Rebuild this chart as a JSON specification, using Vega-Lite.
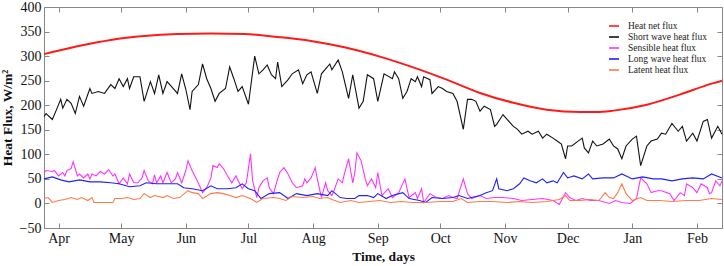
{
  "$schema": "https://vega.github.io/schema/vega-lite/v6.json",
  "width": 678,
  "height": 221,
  "autosize": {"type": "none"},
  "padding": {"left": 44, "top": 7, "right": 2, "bottom": 38},
  "background": "white",
  "config": {
    "view": {"stroke": "#888888", "strokeWidth": 1},
    "font": "Liberation Serif"
  },
  "datasets": {
    "net": [
      {"t": "2014-03-25", "v": 304}, {"t": "2014-04-10", "v": 320}, {"t": "2014-04-26", "v": 333}, {"t": "2014-05-12", "v": 341}, {"t": "2014-05-28", "v": 345}, {"t": "2014-06-13", "v": 346}, {"t": "2014-06-29", "v": 345}, {"t": "2014-07-15", "v": 339}, {"t": "2014-07-31", "v": 331}, {"t": "2014-08-16", "v": 318}, {"t": "2014-09-02", "v": 299}, {"t": "2014-09-18", "v": 277}, {"t": "2014-10-04", "v": 252}, {"t": "2014-10-20", "v": 225}, {"t": "2014-11-05", "v": 205}, {"t": "2014-11-21", "v": 191}, {"t": "2014-12-07", "v": 186}, {"t": "2014-12-15", "v": 186}, {"t": "2014-12-23", "v": 189}, {"t": "2015-01-08", "v": 201}, {"t": "2015-01-24", "v": 222}, {"t": "2015-02-08", "v": 244}, {"t": "2015-02-13", "v": 250}
    ],
    "short": [
      {"t": "2014-03-25", "v": 177}, {"t": "2014-03-26", "v": 183}, {"t": "2014-03-29", "v": 171}, {"t": "2014-03-31", "v": 191}, {"t": "2014-04-02", "v": 212}, {"t": "2014-04-03", "v": 194}, {"t": "2014-04-05", "v": 212}, {"t": "2014-04-07", "v": 204}, {"t": "2014-04-09", "v": 183}, {"t": "2014-04-11", "v": 218}, {"t": "2014-04-13", "v": 198}, {"t": "2014-04-16", "v": 234}, {"t": "2014-04-17", "v": 224}, {"t": "2014-04-20", "v": 228}, {"t": "2014-04-23", "v": 224}, {"t": "2014-04-26", "v": 242}, {"t": "2014-04-28", "v": 234}, {"t": "2014-04-30", "v": 254}, {"t": "2014-05-02", "v": 238}, {"t": "2014-05-04", "v": 254}, {"t": "2014-05-05", "v": 234}, {"t": "2014-05-07", "v": 258}, {"t": "2014-05-10", "v": 258}, {"t": "2014-05-12", "v": 208}, {"t": "2014-05-15", "v": 248}, {"t": "2014-05-17", "v": 224}, {"t": "2014-05-19", "v": 262}, {"t": "2014-05-21", "v": 224}, {"t": "2014-05-23", "v": 248}, {"t": "2014-05-26", "v": 234}, {"t": "2014-05-28", "v": 224}, {"t": "2014-05-30", "v": 264}, {"t": "2014-06-01", "v": 232}, {"t": "2014-06-03", "v": 191}, {"t": "2014-06-04", "v": 228}, {"t": "2014-06-07", "v": 242}, {"t": "2014-06-09", "v": 284}, {"t": "2014-06-11", "v": 254}, {"t": "2014-06-13", "v": 234}, {"t": "2014-06-15", "v": 208}, {"t": "2014-06-17", "v": 224}, {"t": "2014-06-20", "v": 234}, {"t": "2014-06-22", "v": 278}, {"t": "2014-06-24", "v": 254}, {"t": "2014-06-26", "v": 228}, {"t": "2014-06-28", "v": 238}, {"t": "2014-07-01", "v": 202}, {"t": "2014-07-04", "v": 300}, {"t": "2014-07-06", "v": 264}, {"t": "2014-07-08", "v": 272}, {"t": "2014-07-10", "v": 282}, {"t": "2014-07-12", "v": 262}, {"t": "2014-07-14", "v": 254}, {"t": "2014-07-15", "v": 288}, {"t": "2014-07-17", "v": 238}, {"t": "2014-07-20", "v": 252}, {"t": "2014-07-22", "v": 264}, {"t": "2014-07-25", "v": 272}, {"t": "2014-07-27", "v": 244}, {"t": "2014-07-29", "v": 262}, {"t": "2014-07-31", "v": 268}, {"t": "2014-08-03", "v": 224}, {"t": "2014-08-05", "v": 264}, {"t": "2014-08-07", "v": 274}, {"t": "2014-08-09", "v": 284}, {"t": "2014-08-10", "v": 272}, {"t": "2014-08-13", "v": 292}, {"t": "2014-08-15", "v": 268}, {"t": "2014-08-18", "v": 214}, {"t": "2014-08-20", "v": 262}, {"t": "2014-08-23", "v": 194}, {"t": "2014-08-25", "v": 208}, {"t": "2014-08-27", "v": 262}, {"t": "2014-08-30", "v": 254}, {"t": "2014-09-01", "v": 208}, {"t": "2014-09-04", "v": 264}, {"t": "2014-09-08", "v": 254}, {"t": "2014-09-09", "v": 268}, {"t": "2014-09-11", "v": 254}, {"t": "2014-09-13", "v": 214}, {"t": "2014-09-15", "v": 228}, {"t": "2014-09-17", "v": 254}, {"t": "2014-09-19", "v": 248}, {"t": "2014-09-20", "v": 258}, {"t": "2014-09-22", "v": 238}, {"t": "2014-09-23", "v": 258}, {"t": "2014-09-26", "v": 252}, {"t": "2014-09-27", "v": 224}, {"t": "2014-09-30", "v": 238}, {"t": "2014-10-02", "v": 234}, {"t": "2014-10-04", "v": 228}, {"t": "2014-10-07", "v": 224}, {"t": "2014-10-09", "v": 208}, {"t": "2014-10-12", "v": 151}, {"t": "2014-10-14", "v": 212}, {"t": "2014-10-16", "v": 212}, {"t": "2014-10-18", "v": 208}, {"t": "2014-10-20", "v": 188}, {"t": "2014-10-22", "v": 198}, {"t": "2014-10-25", "v": 191}, {"t": "2014-10-27", "v": 157}, {"t": "2014-10-28", "v": 161}, {"t": "2014-10-31", "v": 181}, {"t": "2014-11-02", "v": 171}, {"t": "2014-11-05", "v": 157}, {"t": "2014-11-07", "v": 151}, {"t": "2014-11-09", "v": 141}, {"t": "2014-11-12", "v": 147}, {"t": "2014-11-14", "v": 141}, {"t": "2014-11-17", "v": 147}, {"t": "2014-11-19", "v": 133}, {"t": "2014-11-21", "v": 141}, {"t": "2014-11-24", "v": 133}, {"t": "2014-11-26", "v": 127}, {"t": "2014-11-28", "v": 121}, {"t": "2014-11-30", "v": 91}, {"t": "2014-12-01", "v": 117}, {"t": "2014-12-03", "v": 117}, {"t": "2014-12-06", "v": 127}, {"t": "2014-12-08", "v": 133}, {"t": "2014-12-09", "v": 113}, {"t": "2014-12-11", "v": 103}, {"t": "2014-12-13", "v": 127}, {"t": "2014-12-15", "v": 117}, {"t": "2014-12-18", "v": 121}, {"t": "2014-12-21", "v": 131}, {"t": "2014-12-23", "v": 117}, {"t": "2014-12-25", "v": 111}, {"t": "2014-12-27", "v": 91}, {"t": "2014-12-29", "v": 117}, {"t": "2015-01-01", "v": 131}, {"t": "2015-01-03", "v": 137}, {"t": "2015-01-05", "v": 77}, {"t": "2015-01-08", "v": 117}, {"t": "2015-01-10", "v": 127}, {"t": "2015-01-13", "v": 131}, {"t": "2015-01-15", "v": 143}, {"t": "2015-01-17", "v": 141}, {"t": "2015-01-20", "v": 163}, {"t": "2015-01-23", "v": 147}, {"t": "2015-01-25", "v": 157}, {"t": "2015-01-27", "v": 127}, {"t": "2015-01-30", "v": 143}, {"t": "2015-02-01", "v": 127}, {"t": "2015-02-04", "v": 167}, {"t": "2015-02-06", "v": 171}, {"t": "2015-02-08", "v": 133}, {"t": "2015-02-11", "v": 157}, {"t": "2015-02-13", "v": 141}
    ],
    "sensible": [
      {"t": "2014-03-25", "v": 63}, {"t": "2014-03-26", "v": 67}, {"t": "2014-03-29", "v": 65}, {"t": "2014-03-30", "v": 67}, {"t": "2014-04-01", "v": 56}, {"t": "2014-04-03", "v": 63}, {"t": "2014-04-04", "v": 56}, {"t": "2014-04-05", "v": 67}, {"t": "2014-04-07", "v": 71}, {"t": "2014-04-08", "v": 85}, {"t": "2014-04-10", "v": 56}, {"t": "2014-04-11", "v": 60}, {"t": "2014-04-13", "v": 52}, {"t": "2014-04-15", "v": 60}, {"t": "2014-04-16", "v": 50}, {"t": "2014-04-17", "v": 60}, {"t": "2014-04-19", "v": 56}, {"t": "2014-04-21", "v": 65}, {"t": "2014-04-23", "v": 60}, {"t": "2014-04-25", "v": 69}, {"t": "2014-04-27", "v": 56}, {"t": "2014-04-28", "v": 60}, {"t": "2014-04-30", "v": 40}, {"t": "2014-05-02", "v": 52}, {"t": "2014-05-04", "v": 40}, {"t": "2014-05-05", "v": 60}, {"t": "2014-05-07", "v": 42}, {"t": "2014-05-09", "v": 42}, {"t": "2014-05-11", "v": 52}, {"t": "2014-05-12", "v": 67}, {"t": "2014-05-14", "v": 46}, {"t": "2014-05-16", "v": 40}, {"t": "2014-05-17", "v": 58}, {"t": "2014-05-18", "v": 42}, {"t": "2014-05-20", "v": 56}, {"t": "2014-05-21", "v": 42}, {"t": "2014-05-23", "v": 63}, {"t": "2014-05-25", "v": 42}, {"t": "2014-05-27", "v": 50}, {"t": "2014-05-28", "v": 63}, {"t": "2014-05-30", "v": 42}, {"t": "2014-06-01", "v": 67}, {"t": "2014-06-02", "v": 87}, {"t": "2014-06-04", "v": 67}, {"t": "2014-06-06", "v": 50}, {"t": "2014-06-08", "v": 32}, {"t": "2014-06-09", "v": 22}, {"t": "2014-06-11", "v": 32}, {"t": "2014-06-13", "v": 52}, {"t": "2014-06-14", "v": 77}, {"t": "2014-06-16", "v": 73}, {"t": "2014-06-17", "v": 81}, {"t": "2014-06-19", "v": 71}, {"t": "2014-06-21", "v": 56}, {"t": "2014-06-23", "v": 42}, {"t": "2014-06-25", "v": 56}, {"t": "2014-06-28", "v": 30}, {"t": "2014-06-30", "v": 42}, {"t": "2014-07-02", "v": 101}, {"t": "2014-07-03", "v": 46}, {"t": "2014-07-05", "v": 12}, {"t": "2014-07-06", "v": 32}, {"t": "2014-07-08", "v": 46}, {"t": "2014-07-10", "v": 52}, {"t": "2014-07-11", "v": 32}, {"t": "2014-07-13", "v": 20}, {"t": "2014-07-15", "v": 50}, {"t": "2014-07-16", "v": 63}, {"t": "2014-07-18", "v": 73}, {"t": "2014-07-20", "v": 60}, {"t": "2014-07-22", "v": 42}, {"t": "2014-07-24", "v": 32}, {"t": "2014-07-27", "v": 36}, {"t": "2014-07-28", "v": 50}, {"t": "2014-07-29", "v": 42}, {"t": "2014-07-31", "v": 52}, {"t": "2014-08-02", "v": 73}, {"t": "2014-08-03", "v": 50}, {"t": "2014-08-05", "v": 12}, {"t": "2014-08-07", "v": 42}, {"t": "2014-08-08", "v": 26}, {"t": "2014-08-10", "v": 16}, {"t": "2014-08-11", "v": 26}, {"t": "2014-08-13", "v": 50}, {"t": "2014-08-15", "v": 42}, {"t": "2014-08-16", "v": 60}, {"t": "2014-08-18", "v": 91}, {"t": "2014-08-20", "v": 42}, {"t": "2014-08-21", "v": 63}, {"t": "2014-08-22", "v": 103}, {"t": "2014-08-24", "v": 87}, {"t": "2014-08-26", "v": 50}, {"t": "2014-08-27", "v": 36}, {"t": "2014-08-29", "v": 50}, {"t": "2014-08-31", "v": 32}, {"t": "2014-09-01", "v": 63}, {"t": "2014-09-03", "v": 16}, {"t": "2014-09-06", "v": 30}, {"t": "2014-09-08", "v": 12}, {"t": "2014-09-11", "v": 22}, {"t": "2014-09-14", "v": 50}, {"t": "2014-09-16", "v": 12}, {"t": "2014-09-19", "v": 22}, {"t": "2014-09-20", "v": 10}, {"t": "2014-09-22", "v": 30}, {"t": "2014-09-23", "v": 2}, {"t": "2014-09-26", "v": 20}, {"t": "2014-09-29", "v": 12}, {"t": "2014-10-02", "v": 10}, {"t": "2014-10-05", "v": 16}, {"t": "2014-10-07", "v": 12}, {"t": "2014-10-09", "v": 10}, {"t": "2014-10-12", "v": 50}, {"t": "2014-10-14", "v": 20}, {"t": "2014-10-16", "v": 10}, {"t": "2014-10-20", "v": 16}, {"t": "2014-10-23", "v": 10}, {"t": "2014-10-27", "v": 12}, {"t": "2014-10-31", "v": 12}, {"t": "2014-11-05", "v": 10}, {"t": "2014-11-09", "v": 6}, {"t": "2014-11-14", "v": 8}, {"t": "2014-11-19", "v": 10}, {"t": "2014-11-24", "v": 6}, {"t": "2014-11-27", "v": -2}, {"t": "2014-11-30", "v": 22}, {"t": "2014-12-02", "v": 12}, {"t": "2014-12-05", "v": 6}, {"t": "2014-12-08", "v": 10}, {"t": "2014-12-12", "v": 6}, {"t": "2014-12-16", "v": 6}, {"t": "2014-12-21", "v": 0}, {"t": "2014-12-24", "v": 6}, {"t": "2014-12-27", "v": 2}, {"t": "2014-12-31", "v": 0}, {"t": "2015-01-03", "v": 10}, {"t": "2015-01-05", "v": 52}, {"t": "2015-01-08", "v": 40}, {"t": "2015-01-10", "v": 22}, {"t": "2015-01-13", "v": 26}, {"t": "2015-01-15", "v": 26}, {"t": "2015-01-19", "v": 20}, {"t": "2015-01-21", "v": 6}, {"t": "2015-01-24", "v": 22}, {"t": "2015-01-26", "v": 16}, {"t": "2015-01-27", "v": 40}, {"t": "2015-01-30", "v": 32}, {"t": "2015-02-01", "v": 22}, {"t": "2015-02-03", "v": 40}, {"t": "2015-02-06", "v": 32}, {"t": "2015-02-07", "v": 20}, {"t": "2015-02-08", "v": 22}, {"t": "2015-02-10", "v": 46}, {"t": "2015-02-12", "v": 36}, {"t": "2015-02-13", "v": 46}
    ],
    "long": [
      {"t": "2014-03-25", "v": 50}, {"t": "2014-03-29", "v": 54}, {"t": "2014-04-02", "v": 48}, {"t": "2014-04-06", "v": 44}, {"t": "2014-04-11", "v": 48}, {"t": "2014-04-16", "v": 44}, {"t": "2014-04-21", "v": 44}, {"t": "2014-04-26", "v": 42}, {"t": "2014-04-30", "v": 40}, {"t": "2014-05-05", "v": 34}, {"t": "2014-05-10", "v": 36}, {"t": "2014-05-13", "v": 42}, {"t": "2014-05-18", "v": 40}, {"t": "2014-05-23", "v": 40}, {"t": "2014-05-28", "v": 40}, {"t": "2014-05-31", "v": 32}, {"t": "2014-06-04", "v": 30}, {"t": "2014-06-09", "v": 26}, {"t": "2014-06-13", "v": 36}, {"t": "2014-06-16", "v": 30}, {"t": "2014-06-21", "v": 30}, {"t": "2014-06-25", "v": 32}, {"t": "2014-06-28", "v": 40}, {"t": "2014-07-01", "v": 30}, {"t": "2014-07-04", "v": 26}, {"t": "2014-07-07", "v": 10}, {"t": "2014-07-11", "v": 20}, {"t": "2014-07-16", "v": 22}, {"t": "2014-07-20", "v": 10}, {"t": "2014-07-24", "v": 20}, {"t": "2014-07-29", "v": 16}, {"t": "2014-08-03", "v": 20}, {"t": "2014-08-08", "v": 16}, {"t": "2014-08-10", "v": 26}, {"t": "2014-08-14", "v": 12}, {"t": "2014-08-17", "v": 10}, {"t": "2014-08-21", "v": 10}, {"t": "2014-08-23", "v": 16}, {"t": "2014-08-27", "v": 16}, {"t": "2014-08-30", "v": 12}, {"t": "2014-09-01", "v": 20}, {"t": "2014-09-05", "v": 10}, {"t": "2014-09-08", "v": 16}, {"t": "2014-09-13", "v": 22}, {"t": "2014-09-16", "v": 10}, {"t": "2014-09-21", "v": 6}, {"t": "2014-09-24", "v": 2}, {"t": "2014-09-27", "v": 12}, {"t": "2014-10-02", "v": 10}, {"t": "2014-10-07", "v": 12}, {"t": "2014-10-10", "v": 16}, {"t": "2014-10-14", "v": 10}, {"t": "2014-10-16", "v": 12}, {"t": "2014-10-20", "v": 16}, {"t": "2014-10-23", "v": 22}, {"t": "2014-10-26", "v": 26}, {"t": "2014-10-28", "v": 50}, {"t": "2014-10-29", "v": 30}, {"t": "2014-11-02", "v": 26}, {"t": "2014-11-05", "v": 30}, {"t": "2014-11-08", "v": 40}, {"t": "2014-11-10", "v": 52}, {"t": "2014-11-13", "v": 46}, {"t": "2014-11-16", "v": 42}, {"t": "2014-11-19", "v": 50}, {"t": "2014-11-21", "v": 42}, {"t": "2014-11-24", "v": 46}, {"t": "2014-11-26", "v": 42}, {"t": "2014-11-29", "v": 63}, {"t": "2014-12-01", "v": 52}, {"t": "2014-12-04", "v": 56}, {"t": "2014-12-08", "v": 50}, {"t": "2014-12-11", "v": 60}, {"t": "2014-12-13", "v": 50}, {"t": "2014-12-18", "v": 52}, {"t": "2014-12-23", "v": 52}, {"t": "2014-12-27", "v": 60}, {"t": "2015-01-01", "v": 50}, {"t": "2015-01-06", "v": 54}, {"t": "2015-01-11", "v": 50}, {"t": "2015-01-15", "v": 50}, {"t": "2015-01-20", "v": 46}, {"t": "2015-01-25", "v": 50}, {"t": "2015-01-30", "v": 52}, {"t": "2015-02-04", "v": 50}, {"t": "2015-02-08", "v": 60}, {"t": "2015-02-13", "v": 52}
    ],
    "latent": [
      {"t": "2014-03-25", "v": 10}, {"t": "2014-03-27", "v": 12}, {"t": "2014-03-29", "v": 2}, {"t": "2014-04-01", "v": 6}, {"t": "2014-04-04", "v": 8}, {"t": "2014-04-07", "v": 12}, {"t": "2014-04-10", "v": 8}, {"t": "2014-04-12", "v": 12}, {"t": "2014-04-15", "v": 6}, {"t": "2014-04-17", "v": 12}, {"t": "2014-04-18", "v": 2}, {"t": "2014-04-22", "v": 2}, {"t": "2014-04-27", "v": 2}, {"t": "2014-04-28", "v": 10}, {"t": "2014-05-01", "v": 10}, {"t": "2014-05-04", "v": 12}, {"t": "2014-05-07", "v": 8}, {"t": "2014-05-10", "v": 10}, {"t": "2014-05-12", "v": 20}, {"t": "2014-05-15", "v": 12}, {"t": "2014-05-17", "v": 16}, {"t": "2014-05-21", "v": 12}, {"t": "2014-05-23", "v": 16}, {"t": "2014-05-26", "v": 10}, {"t": "2014-05-29", "v": 12}, {"t": "2014-06-02", "v": 26}, {"t": "2014-06-04", "v": 22}, {"t": "2014-06-07", "v": 20}, {"t": "2014-06-09", "v": 10}, {"t": "2014-06-13", "v": 20}, {"t": "2014-06-16", "v": 22}, {"t": "2014-06-19", "v": 20}, {"t": "2014-06-22", "v": 16}, {"t": "2014-06-25", "v": 12}, {"t": "2014-06-28", "v": 16}, {"t": "2014-07-02", "v": 10}, {"t": "2014-07-05", "v": 2}, {"t": "2014-07-08", "v": 10}, {"t": "2014-07-13", "v": 12}, {"t": "2014-07-16", "v": 10}, {"t": "2014-07-19", "v": 6}, {"t": "2014-07-22", "v": 14}, {"t": "2014-07-27", "v": 12}, {"t": "2014-08-01", "v": 14}, {"t": "2014-08-04", "v": 10}, {"t": "2014-08-08", "v": 12}, {"t": "2014-08-10", "v": 8}, {"t": "2014-08-14", "v": 2}, {"t": "2014-08-19", "v": 6}, {"t": "2014-08-23", "v": 2}, {"t": "2014-08-28", "v": 4}, {"t": "2014-09-02", "v": 6}, {"t": "2014-09-07", "v": 2}, {"t": "2014-09-12", "v": 4}, {"t": "2014-09-18", "v": 2}, {"t": "2014-09-24", "v": 2}, {"t": "2014-10-01", "v": 4}, {"t": "2014-10-07", "v": 4}, {"t": "2014-10-11", "v": 10}, {"t": "2014-10-14", "v": 2}, {"t": "2014-10-20", "v": 4}, {"t": "2014-10-26", "v": 4}, {"t": "2014-11-02", "v": 2}, {"t": "2014-11-08", "v": 4}, {"t": "2014-11-14", "v": 2}, {"t": "2014-11-21", "v": 4}, {"t": "2014-11-27", "v": 8}, {"t": "2014-11-30", "v": 16}, {"t": "2014-12-02", "v": 6}, {"t": "2014-12-07", "v": 6}, {"t": "2014-12-12", "v": 8}, {"t": "2014-12-16", "v": 6}, {"t": "2014-12-19", "v": 22}, {"t": "2014-12-21", "v": 12}, {"t": "2014-12-23", "v": 10}, {"t": "2014-12-25", "v": 22}, {"t": "2014-12-27", "v": 40}, {"t": "2014-12-29", "v": 20}, {"t": "2015-01-01", "v": 6}, {"t": "2015-01-05", "v": 12}, {"t": "2015-01-08", "v": 6}, {"t": "2015-01-14", "v": 6}, {"t": "2015-01-20", "v": 4}, {"t": "2015-01-27", "v": 6}, {"t": "2015-02-02", "v": 6}, {"t": "2015-02-08", "v": 10}, {"t": "2015-02-13", "v": 8}
    ]
  },
  "layer": [
    {"data": {"name": "net"}, "mark": {"type": "line", "strokeWidth": 2, "interpolate": "monotone"},
     "encoding": {
       "x": {"field": "t", "type": "temporal", "scale": {"type": "utc", "domain": [{"year": 2014, "month": 3, "date": 25, "utc": true}, {"year": 2015, "month": 2, "date": 13, "utc": true}]},
         "axis": {"title": "Time, days", "format": "%b", "tickCount": {"interval": "month", "step": 1}, "labelPadding": 8, "titlePadding": 4, "labelFlush": false, "labelOverlap": false, "grid": false, "tickSize": -5, "domainColor": "#888888", "tickColor": "#888888", "labelFont": "Liberation Serif", "labelFontSize": 14, "labelColor": "#111111", "titleFont": "Liberation Serif", "titleFontSize": 13.5, "titleFontWeight": "bold", "titleColor": "#111111"}},
       "y": {"field": "v", "type": "quantitative", "scale": {"domain": [-50, 400], "nice": false, "zero": false},
         "axis": {"title": "Heat Flux, W/m²", "values": [-50, 0, 50, 100, 150, 200, 250, 300, 350, 400], "labelPadding": 8, "titlePadding": 5, "labelFlush": false, "labelOverlap": false, "grid": false, "tickSize": -5, "domainColor": "#888888", "tickColor": "#888888", "labelFont": "Liberation Serif", "labelFontSize": 14, "labelColor": "#111111", "titleFont": "Liberation Serif", "titleFontSize": 13.5, "titleFontWeight": "bold", "titleColor": "#111111"}},
       "color": {"datum": "Heat net flux", "type": "nominal", "scale": {"domain": ["Heat net flux", "Short wave heat flux", "Sensible heat flux", "Long wave heat flux", "Latent heat flux"], "range": ["#ff1a1a", "#111111", "#ff33ff", "#2020ff", "#ff7a45"]},
         "legend": {"title": null, "orient": "none", "legendX": 564, "legendY": 13, "symbolType": "stroke", "symbolSize": 100, "symbolStrokeWidth": 1.6, "labelFont": "Liberation Serif", "labelFontSize": 9.5, "labelColor": "#222222", "rowPadding": 0, "padding": 0, "labelOffset": 8}}
     }},
    {"data": {"name": "short"}, "mark": {"type": "line", "strokeWidth": 1.1}, "encoding": {"x": {"field": "t", "type": "temporal", "axis": null}, "y": {"field": "v", "type": "quantitative", "axis": null}, "color": {"datum": "Short wave heat flux", "type": "nominal"}}},
    {"data": {"name": "sensible"}, "mark": {"type": "line", "strokeWidth": 1.1}, "encoding": {"x": {"field": "t", "type": "temporal", "axis": null}, "y": {"field": "v", "type": "quantitative", "axis": null}, "color": {"datum": "Sensible heat flux", "type": "nominal"}}},
    {"data": {"name": "long"}, "mark": {"type": "line", "strokeWidth": 1.1}, "encoding": {"x": {"field": "t", "type": "temporal", "axis": null}, "y": {"field": "v", "type": "quantitative", "axis": null}, "color": {"datum": "Long wave heat flux", "type": "nominal"}}},
    {"data": {"name": "latent"}, "mark": {"type": "line", "strokeWidth": 1.1}, "encoding": {"x": {"field": "t", "type": "temporal", "axis": null}, "y": {"field": "v", "type": "quantitative", "axis": null}, "color": {"datum": "Latent heat flux", "type": "nominal"}}},
    {
      "data": {"name": "net"},
      "mark": {"type": "line", "strokeOpacity": 0},
      "encoding": {
        "x": {"field": "t", "type": "temporal", "axis": {"orient": "top", "labels": false, "title": null, "grid": false, "tickSize": -5, "domain": false, "tickColor": "#888888", "tickCount": {"interval": "month", "step": 1}}},
        "y": {"field": "v", "type": "quantitative", "axis": {"orient": "right", "labels": false, "title": null, "grid": false, "tickSize": -5, "domain": false, "tickColor": "#888888", "values": [-50, 0, 50, 100, 150, 200, 250, 300, 350, 400]}}
      }
    }
  ],
  "resolve": {"axis": {"x": "independent", "y": "independent"}}
}
